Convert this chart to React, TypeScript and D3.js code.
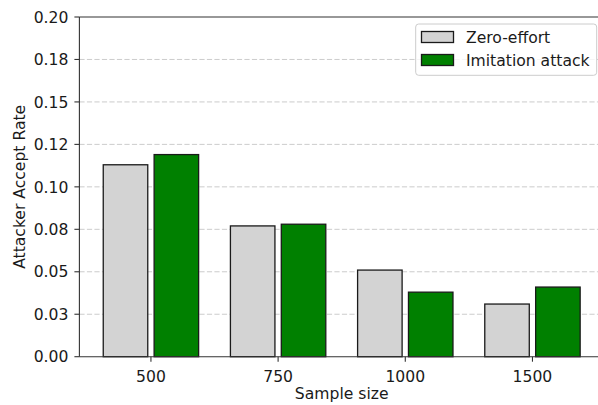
import React from "react";
import * as d3 from "d3";

// Attacker accept rate by sample size
const categories = ["500", "750", "1000", "1500"];
const zeroEffort = [0.113, 0.077, 0.051, 0.031];
const imitation = [0.119, 0.078, 0.038, 0.041];
const yTicks = [0, 0.025, 0.05, 0.075, 0.1, 0.125, 0.15, 0.175, 0.2];
const yTickLabels = ["0.00", "0.03", "0.05", "0.08", "0.10", "0.12", "0.15", "0.18", "0.20"];
const seriesNames = ["Zero-effort", "Imitation attack"];
const seriesColors = ["#d3d3d3", "#008000"];

const W = 598;
const H = 405;
const FONT = "DejaVu Sans, sans-serif";
const FS = 15.6;

export default function App() {
  const left = 79.4;
  const right = 604;
  const top = 17;
  const bottom = 356.7;

  const x = d3.scaleLinear().domain([-0.5625, 3.5625]).range([left, right]);
  const y = d3.scaleLinear().domain([0, 0.2]).range([bottom, top]);
  const barW = 0.35;
  const offsets = [-0.2, 0.2];
  const series = [zeroEffort, imitation];
  const unit = x(1) - x(0);
  const capHalf = 0.729 * FS / 2;
  const spine = "#333333";

  return (
    <svg
      width={W}
      height={H}
      style={{ position: "absolute", left: 0, top: 0, background: "#fff" }}
      fontFamily={FONT}
    >
      {/* dashed horizontal gridlines */}
      {yTicks.slice(1, -1).map((t) => (
        <line
          key={"g" + t}
          x1={left}
          x2={right}
          y1={y(t)}
          y2={y(t)}
          stroke="#cccccc"
          strokeWidth={1}
          strokeDasharray="5.2,2.3"
        />
      ))}

      {/* bars */}
      {series.map((vals, si) =>
        vals.map((v, i) => (
          <rect
            key={`b${si}-${i}`}
            x={x(i + offsets[si] - barW / 2)}
            y={y(v)}
            width={barW * unit}
            height={y(0) - y(v)}
            fill={seriesColors[si]}
            stroke="#1a1a1a"
            strokeWidth={1.3}
          />
        ))
      )}

      {/* spines */}
      <line x1={left} x2={left} y1={top} y2={bottom} stroke={spine} strokeWidth={1.1} />
      <line x1={left} x2={right} y1={top} y2={top} stroke={spine} strokeWidth={1.1} />
      <line x1={left} x2={right} y1={bottom} y2={bottom} stroke={spine} strokeWidth={1.1} />

      {/* y axis ticks and labels */}
      {yTicks.map((t, i) => (
        <g key={"y" + t}>
          <line x1={left - 5} x2={left} y1={y(t)} y2={y(t)} stroke={spine} strokeWidth={1.1} />
          <text
            x={left - 11}
            y={y(t) + capHalf}
            fontSize={FS}
            textAnchor="end"
            fill="#1a1a1a"
          >
            {yTickLabels[i]}
          </text>
        </g>
      ))}

      {/* x axis ticks and labels */}
      {categories.map((c, i) => (
        <g key={"x" + c}>
          <line x1={x(i)} x2={x(i)} y1={bottom} y2={bottom + 5} stroke={spine} strokeWidth={1.1} />
          <text x={x(i)} y={381.5} fontSize={FS} textAnchor="middle" fill="#1a1a1a">
            {c}
          </text>
        </g>
      ))}

      {/* axis titles */}
      <text x={(left + right) / 2} y={398.5} fontSize={FS} textAnchor="middle" fill="#1a1a1a">
        Sample size
      </text>
      <text
        transform={`translate(24.5, ${(top + bottom) / 2}) rotate(-90)`}
        fontSize={FS}
        textAnchor="middle"
        fill="#1a1a1a"
      >
        Attacker Accept Rate
      </text>

      {/* legend */}
      <g>
        <rect
          x={415.7}
          y={24}
          width={181}
          height={51.3}
          rx={3}
          fill="#ffffff"
          fillOpacity={0.8}
          stroke="#cccccc"
          strokeWidth={1}
        />
        {seriesNames.map((n, i) => (
          <g key={n}>
            <rect
              x={421.5}
              y={31.5 + i * 23}
              width={32}
              height={11}
              fill={seriesColors[i]}
              stroke="#1a1a1a"
              strokeWidth={1.3}
            />
            <text x={466} y={42.7 + i * 23} fontSize={FS} fill="#1a1a1a">
              {n}
            </text>
          </g>
        ))}
      </g>
    </svg>
  );
}
